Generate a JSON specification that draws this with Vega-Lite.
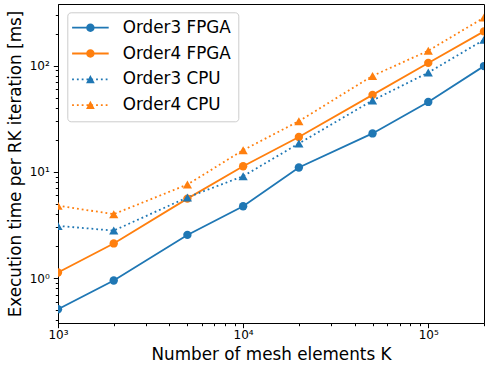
{
  "$schema": "https://vega.github.io/schema/vega-lite/v6.json",
  "width": 426,
  "height": 319,
  "autosize": {"type": "none"},
  "padding": {"left": 58, "top": 4, "right": 1, "bottom": 45},
  "config": {
    "view": {"stroke": "black", "strokeWidth": 1},
    "axis": {
      "grid": false,
      "domainColor": "black",
      "domainWidth": 1,
      "tickColor": "black",
      "tickWidth": 1,
      "labelColor": "black",
      "titleColor": "black",
      "labelFont": "DejaVu Sans",
      "titleFont": "DejaVu Sans",
      "labelFontSize": 12,
      "titleFontSize": 16.8,
      "titleFontWeight": "normal",
      "labelOverlap": false,
      "labelFlush": false
    }
  },
  "data": {
    "values": [
      {"K": 1000, "t": 0.51, "series": "Order3 FPGA"},
      {"K": 2000, "t": 0.95, "series": "Order3 FPGA"},
      {"K": 5000, "t": 2.55, "series": "Order3 FPGA"},
      {"K": 10000, "t": 4.75, "series": "Order3 FPGA"},
      {"K": 20000, "t": 11.0, "series": "Order3 FPGA"},
      {"K": 50000, "t": 23.0, "series": "Order3 FPGA"},
      {"K": 100000, "t": 45.5, "series": "Order3 FPGA"},
      {"K": 200000, "t": 99, "series": "Order3 FPGA"},
      {"K": 1000, "t": 1.13, "series": "Order4 FPGA"},
      {"K": 2000, "t": 2.12, "series": "Order4 FPGA"},
      {"K": 5000, "t": 5.6, "series": "Order4 FPGA"},
      {"K": 10000, "t": 11.3, "series": "Order4 FPGA"},
      {"K": 20000, "t": 21.3, "series": "Order4 FPGA"},
      {"K": 50000, "t": 53, "series": "Order4 FPGA"},
      {"K": 100000, "t": 106, "series": "Order4 FPGA"},
      {"K": 200000, "t": 210, "series": "Order4 FPGA"},
      {"K": 1000, "t": 3.1, "series": "Order3 CPU"},
      {"K": 2000, "t": 2.8, "series": "Order3 CPU"},
      {"K": 5000, "t": 5.75, "series": "Order3 CPU"},
      {"K": 10000, "t": 9.1, "series": "Order3 CPU"},
      {"K": 20000, "t": 18.5, "series": "Order3 CPU"},
      {"K": 50000, "t": 47, "series": "Order3 CPU"},
      {"K": 100000, "t": 86, "series": "Order3 CPU"},
      {"K": 200000, "t": 175, "series": "Order3 CPU"},
      {"K": 1000, "t": 4.8, "series": "Order4 CPU"},
      {"K": 2000, "t": 4.0, "series": "Order4 CPU"},
      {"K": 5000, "t": 7.6, "series": "Order4 CPU"},
      {"K": 10000, "t": 16, "series": "Order4 CPU"},
      {"K": 20000, "t": 30, "series": "Order4 CPU"},
      {"K": 50000, "t": 80, "series": "Order4 CPU"},
      {"K": 100000, "t": 138, "series": "Order4 CPU"},
      {"K": 200000, "t": 283, "series": "Order4 CPU"}
    ]
  },
  "encoding": {
    "x": {
      "field": "K",
      "type": "quantitative",
      "scale": {"type": "log", "domain": [1000, 200000], "nice": false},
      "axis": {
        "title": "Number of mesh elements K",
        "values": [1000, 2000, 3000, 4000, 5000, 6000, 7000, 8000, 9000, 10000, 20000, 30000, 40000, 50000, 60000, 70000, 80000, 90000, 100000, 200000],
        "labelExpr": "datum.value == 1000 ? '10³' : datum.value == 10000 ? '10⁴' : datum.value == 100000 ? '10⁵' : ''",
        "tickSize": {"condition": {"test": "datum.value == 1000 || datum.value == 10000 || datum.value == 100000", "value": 4.7}, "value": 2.7},
        "labelPadding": 2,
        "titlePadding": 6
      }
    },
    "y": {
      "field": "t",
      "type": "quantitative",
      "scale": {"type": "log", "domain": [0.378, 380], "nice": false},
      "axis": {
        "title": "Execution time per RK iteration [ms]",
        "values": [0.4, 0.5, 0.6, 0.7, 0.8, 0.9, 1, 2, 3, 4, 5, 6, 7, 8, 9, 10, 20, 30, 40, 50, 60, 70, 80, 90, 100, 200, 300],
        "labelExpr": "datum.value == 1 ? '10⁰' : datum.value == 10 ? '10¹' : datum.value == 100 ? '10²' : ''",
        "tickSize": {"condition": {"test": "datum.value == 1 || datum.value == 10 || datum.value == 100", "value": 4.7}, "value": 2.7},
        "labelPadding": 4,
        "titlePadding": 5
      }
    }
  },
  "layer": [
    {
      "mark": {"type": "point", "filled": true, "size": 256, "opacity": 0, "clip": true},
      "encoding": {
        "color": {
          "field": "series",
          "type": "nominal",
          "scale": {"domain": ["Order3 FPGA", "Order4 FPGA", "Order3 CPU", "Order4 CPU"], "range": ["#1f77b4", "#ff7f0e", "#1f77b4", "#ff7f0e"]},
          "legend": {
            "title": null,
            "orient": "none",
            "legendX": 9.3,
            "legendY": 8.3,
            "labelFont": "DejaVu Sans",
            "labelFontSize": 16.8,
            "labelColor": "black",
            "symbolSize": 256,
            "symbolStrokeWidth": 0,
            "symbolOpacity": 1,
            "labelOffset": 31.7,
            "rowPadding": 7.8,
            "padding": 7,
            "cornerRadius": 3.4,
            "strokeColor": "#cccccc",
            "fillColor": "rgba(255,255,255,0.8)"
          }
        },
        "shape": {
          "field": "series",
          "type": "nominal",
          "scale": {
            "domain": ["Order3 FPGA", "Order4 FPGA", "Order3 CPU", "Order4 CPU"],
            "range": [
              "M-1.325,-0.1125H3.25V0.1125H-1.325Z M0.4375,0A0.525,0.525,0,1,1,1.4875,0A0.525,0.525,0,1,1,0.4375,0Z",
              "M-1.325,-0.1125H3.25V0.1125H-1.325Z M0.4375,0A0.525,0.525,0,1,1,1.4875,0A0.525,0.525,0,1,1,0.4375,0Z",
              "M-1.325,-0.1125h0.225v0.225h-0.225Z M-0.725,-0.1125h0.225v0.225h-0.225Z M-0.125,-0.1125h0.225v0.225h-0.225Z M0.475,-0.1125h0.225v0.225h-0.225Z M1.075,-0.1125h0.225v0.225h-0.225Z M1.675,-0.1125h0.225v0.225h-0.225Z M2.275,-0.1125h0.225v0.225h-0.225Z M2.875,-0.1125h0.225v0.225h-0.225Z M0.9625,-0.55L1.50625,0.5L0.41875,0.5Z",
              "M-1.325,-0.1125h0.225v0.225h-0.225Z M-0.725,-0.1125h0.225v0.225h-0.225Z M-0.125,-0.1125h0.225v0.225h-0.225Z M0.475,-0.1125h0.225v0.225h-0.225Z M1.075,-0.1125h0.225v0.225h-0.225Z M1.675,-0.1125h0.225v0.225h-0.225Z M2.275,-0.1125h0.225v0.225h-0.225Z M2.875,-0.1125h0.225v0.225h-0.225Z M0.9625,-0.55L1.50625,0.5L0.41875,0.5Z"
            ]
          },
          "legend": {
            "title": null,
            "orient": "none",
            "legendX": 9.3,
            "legendY": 8.3,
            "labelFont": "DejaVu Sans",
            "labelFontSize": 16.8,
            "labelColor": "black",
            "symbolSize": 256,
            "symbolStrokeWidth": 0,
            "symbolOpacity": 1,
            "labelOffset": 30.7,
            "rowPadding": 7.8,
            "padding": 7,
            "cornerRadius": 3.4,
            "strokeColor": "#cccccc",
            "fillColor": "rgba(255,255,255,0.8)"
          }
        }
      }
    },
    {
      "transform": [{"filter": {"field": "series", "oneOf": ["Order3 FPGA", "Order4 FPGA"]}}],
      "mark": {"type": "line", "strokeWidth": 1.8, "clip": true},
      "encoding": {
        "color": {"field": "series", "type": "nominal", "scale": {"domain": ["Order3 FPGA", "Order4 FPGA", "Order3 CPU", "Order4 CPU"], "range": ["#1f77b4", "#ff7f0e", "#1f77b4", "#ff7f0e"]}, "legend": null}
      }
    },
    {
      "transform": [{"filter": {"field": "series", "oneOf": ["Order3 CPU", "Order4 CPU"]}}],
      "mark": {"type": "line", "strokeWidth": 1.8, "strokeDash": [1.8, 3], "clip": true},
      "encoding": {
        "color": {"field": "series", "type": "nominal", "scale": {"domain": ["Order3 FPGA", "Order4 FPGA", "Order3 CPU", "Order4 CPU"], "range": ["#1f77b4", "#ff7f0e", "#1f77b4", "#ff7f0e"]}, "legend": null}
      }
    },
    {
      "transform": [{"filter": {"field": "series", "oneOf": ["Order3 FPGA", "Order4 FPGA"]}}],
      "mark": {"type": "point", "shape": "circle", "filled": true, "size": 70, "opacity": 1, "strokeWidth": 0, "clip": true},
      "encoding": {
        "color": {"field": "series", "type": "nominal", "scale": {"domain": ["Order3 FPGA", "Order4 FPGA", "Order3 CPU", "Order4 CPU"], "range": ["#1f77b4", "#ff7f0e", "#1f77b4", "#ff7f0e"]}, "legend": null}
      }
    },
    {
      "transform": [{"filter": {"field": "series", "oneOf": ["Order3 CPU", "Order4 CPU"]}}],
      "mark": {"type": "point", "shape": "triangle-up", "filled": true, "size": 85, "opacity": 1, "strokeWidth": 0, "clip": true},
      "encoding": {
        "color": {"field": "series", "type": "nominal", "scale": {"domain": ["Order3 FPGA", "Order4 FPGA", "Order3 CPU", "Order4 CPU"], "range": ["#1f77b4", "#ff7f0e", "#1f77b4", "#ff7f0e"]}, "legend": null}
      }
    }
  ]
}
